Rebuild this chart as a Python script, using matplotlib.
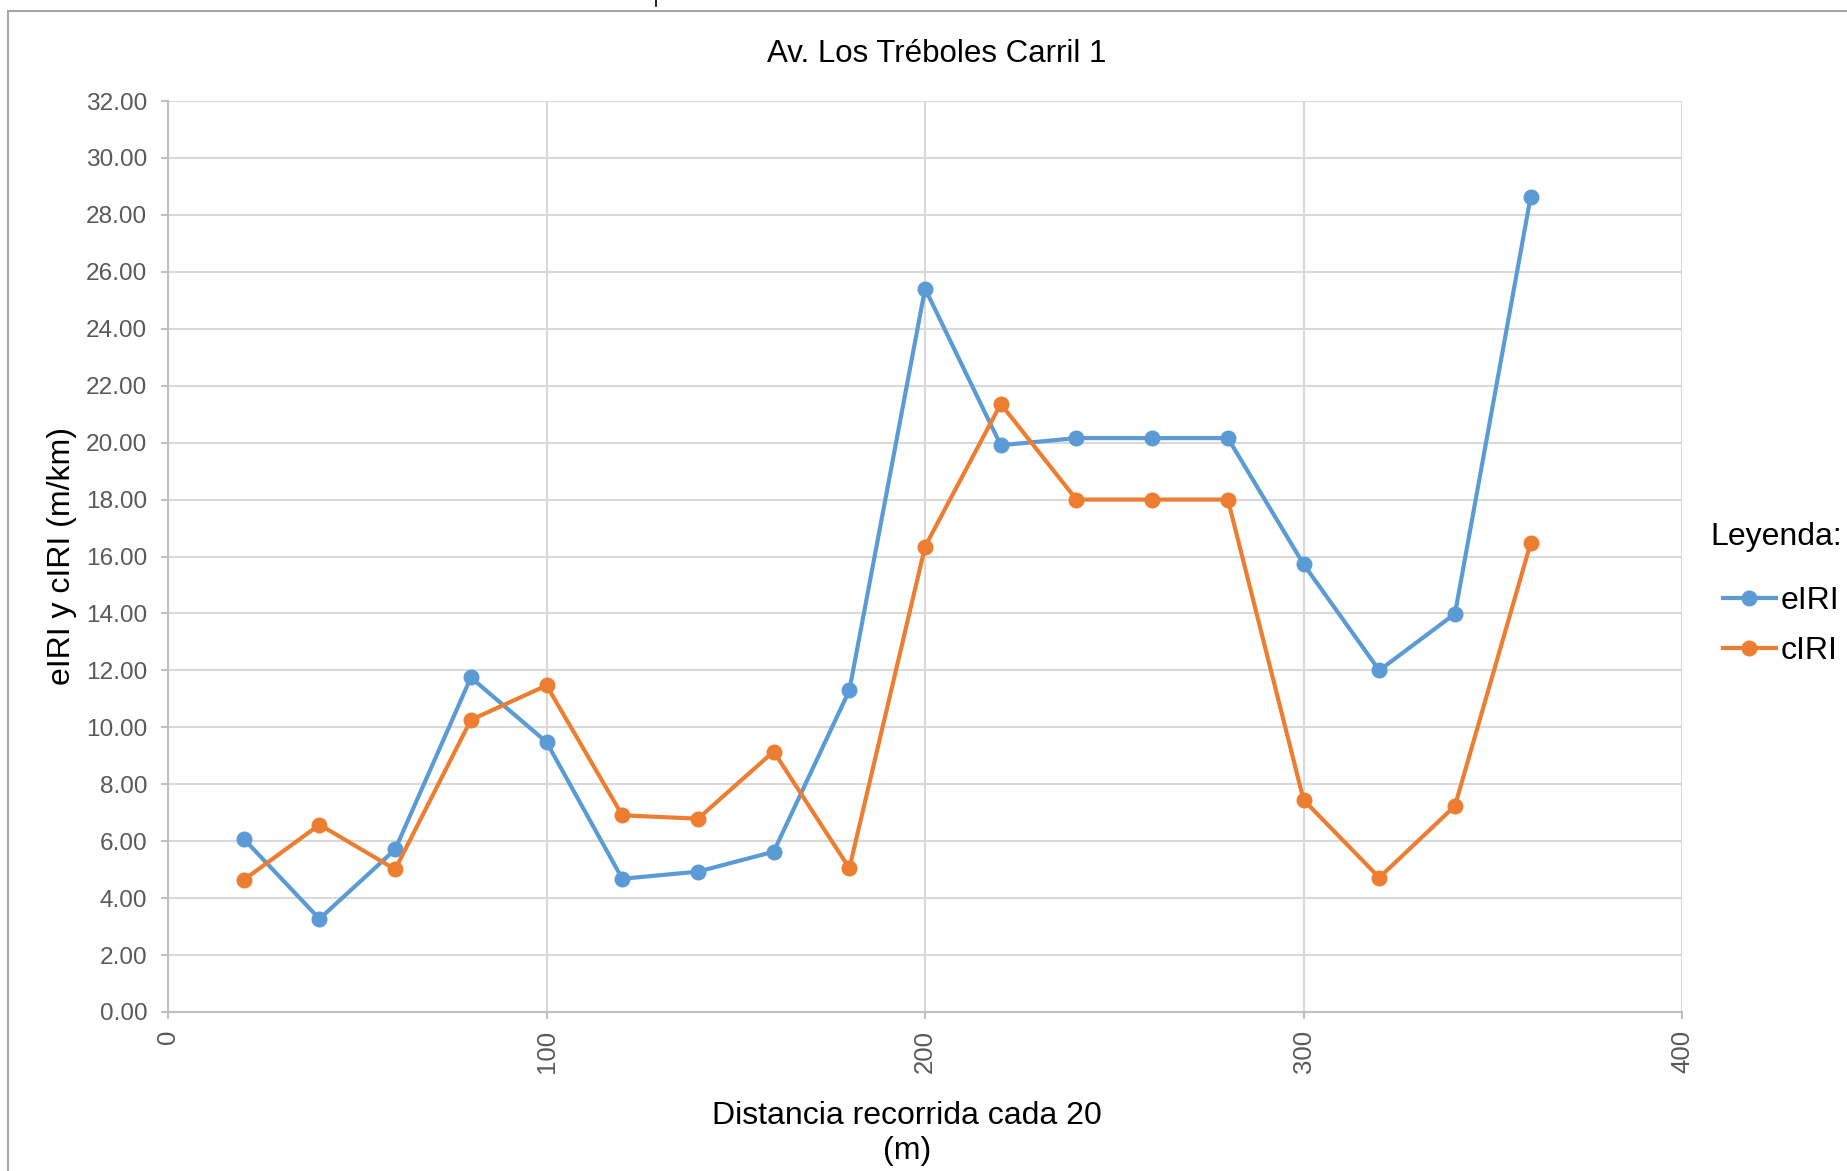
import matplotlib.pyplot as plt
from matplotlib.patches import Rectangle
from matplotlib.lines import Line2D

plt.rcParams['font.family'] = ['Liberation Sans', 'DejaVu Sans']

# distancia (m) y valores de IRI (m/km)
distancia = [20, 40, 60, 80, 100, 120, 140, 160, 180, 200,
             220, 240, 260, 280, 300, 320, 340, 360]
eiri = [6.08, 3.27, 5.71, 11.75, 9.48, 4.68, 4.93, 5.63, 11.30, 25.41,
        19.91, 20.16, 20.16, 20.16, 15.73, 12.00, 13.99, 28.64]
ciri = [4.64, 6.58, 5.01, 10.26, 11.47, 6.91, 6.79, 9.15, 5.05, 16.35,
        21.36, 18.00, 18.00, 18.00, 7.45, 4.72, 7.24, 16.47]

x_ticks = [0, 100, 200, 300, 400]
y_ticks = [0, 2, 4, 6, 8, 10, 12, 14, 16, 18, 20, 22, 24, 26, 28, 30, 32]

azul = '#5B9BD5'
naranja = '#ED7D31'

fig = plt.figure(figsize=(18.47, 11.71), dpi=100)
ax = fig.add_axes([0.0910, 0.1358, 0.8197, 0.7779])

ax.plot(distancia, eiri, color=azul, lw=3, marker='o', ms=10.5, label='eIRI')
ax.plot(distancia, ciri, color=naranja, lw=3, marker='o', ms=10.5, label='cIRI')

ax.set_xlim(0, 400)
ax.set_ylim(0, 32)
ax.set_xticks(x_ticks)
ax.set_yticks(y_ticks)
ax.set_yticklabels([f'{v:.2f}' for v in y_ticks])
ax.set_xticklabels([str(v) for v in x_ticks], rotation=90, va='top')

ax.grid(True, color='#d9d9d9', lw=1.5)
ax.set_axisbelow(True)
for s in ['top', 'right']:
    ax.spines[s].set_visible(False)
for s in ['left', 'bottom']:
    ax.spines[s].set_color('#bfbfbf')
    ax.spines[s].set_linewidth(1.5)
ax.tick_params(axis='both', colors='#bfbfbf', labelcolor='#595959',
               length=5, width=1.5)
ax.tick_params(axis='y', pad=10, labelsize=17.6)
ax.tick_params(axis='x', pad=8, labelsize=18.5)

fig.text(0.507, 1 - 62 / 1171, 'Av. Los Tréboles Carril 1', ha='center',
         va='baseline', fontsize=22.5, color='black')
fig.text(0.0335, 1 - 556 / 1171, 'eIRI y cIRI (m/km)', rotation=90,
         ha='center', va='center', fontsize=23, color='black')
fig.text(907 / 1847, 1 - 1101 / 1171, 'Distancia recorrida cada 20\n(m)',
         ha='center', va='top', multialignment='center', fontsize=23,
         color='black', linespacing=1.2)

fig.text(1710 / 1847, 1 - 537 / 1171, 'Leyenda:', ha='left', va='center',
         fontsize=23, color='black')
leg = fig.legend(loc='center left', bbox_to_anchor=(1723 / 1847, 1 - 626 / 1171),
                 fontsize=23, frameon=False, handlelength=1.65,
                 handletextpad=0.15, labelspacing=0.62, borderpad=0,
                 borderaxespad=0)

# marco del gráfico
fig.add_artist(Rectangle((8 / 1847, -0.2), 1.5, 1.2 - 11 / 1171,
                         transform=fig.transFigure, fill=False,
                         edgecolor='#a6a6a6', lw=1.5))
fig.add_artist(Line2D([656 / 1847, 656 / 1847], [1.0, 1 - 6 / 1171],
                      transform=fig.transFigure, color='black', lw=1.2))

plt.savefig('out.png', dpi=100)
